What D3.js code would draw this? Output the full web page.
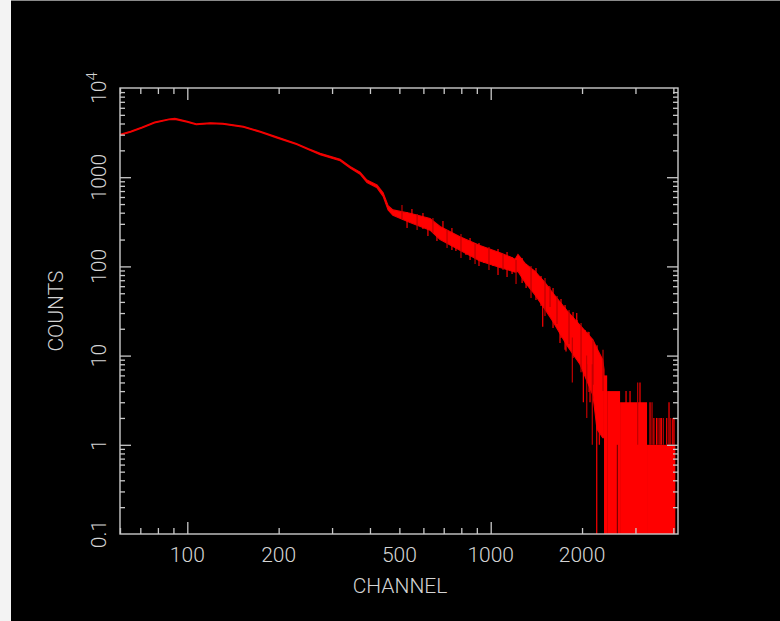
<!DOCTYPE html>
<html><head><meta charset="utf-8">
<script src="https://cdn.jsdelivr.net/npm/d3@7"></script>
<style>
html,body{margin:0;padding:0;background:#f3f3f3;overflow:hidden;}
svg{display:block;}
</style></head><body>
<svg id="c" width="780" height="621"></svg>
<script>
// ---- data ----
// envelope of the spectrum (channel, lower count, upper count)
const bandChannel = [60, 65, 71, 78, 87, 91, 100, 107, 119, 131, 153, 174, 197, 229, 250, 274, 319, 344, 371, 391, 422, 442, 459, 476, 542, 631, 681, 792, 922, 1073, 1158, 1203, 1230, 1298, 1400, 1510, 1605, 1784, 1968, 2173, 2240, 2340, 2363];
const bandLow  = [2950, 3200, 3570, 4050, 4400, 4450, 4130, 3870, 3980, 3930, 3630, 3190, 2760, 2320, 2040, 1790, 1530, 1270, 1080, 870, 760, 610, 430, 375, 310, 255, 200, 152, 115, 97, 90, 86, 88, 66, 48, 33, 24, 13, 8, 3.6, 1.5, 1.2, 1.2];
const bandHigh = [3020, 3280, 3660, 4150, 4500, 4570, 4230, 3960, 4070, 4020, 3720, 3270, 2840, 2390, 2100, 1850, 1590, 1320, 1140, 930, 820, 670, 480, 430, 395, 345, 280, 215, 172, 142, 128, 120, 136, 108, 88, 66, 50, 32, 22, 15, 12, 9, 7];
// low-count tail: zero counts reach the bottom of the plot
const tailStart = [2363, 2420, 2669, 3275];
const tailEnd   = [2420, 2669, 3275, 4060];
const tailCount = [6, 4, 3, 1];
// individual noise spikes (channel, low, high)
const spikeChannel = [510, 530, 550, 572, 598, 621, 645, 665, 696, 718, 745, 768, 798, 829, 855, 888, 915, 950, 987, 1018, 1057, 1098, 1132, 1176, 1212, 1269, 1308, 1358, 1410, 1465, 1510, 1557, 1605, 1654, 1705, 1758, 1812, 1868, 1925, 1985, 2046, 2109, 2174, 2241,
  1484, 1569, 1692, 1771, 1858, 1921, 2020, 2073, 2093, 2125, 2162, 2236, 2280, 2345, 2793, 2879, 3051, 3105, 3351, 3402, 3450, 3520, 3560, 3614, 3650, 3706, 3803, 3870, 3920, 3981, 4020];
const spikeLow  = [340, 269.5, 315, 256, 262.6, 219, 237, 192.7, 197.7, 160.8, 152.7, 148.8, 124.2, 134.2, 117.9, 106.4, 101, 109.2, 91.1, 101, 80.1, 91.1, 76.1, 82.2, 63.5, 65.2, 57.3, 44.2, 42, 36, 27.8, 30.8, 20.4, 22.6, 15.8, 11.6, 13.5, 9.4, 11, 6.5, 7.6, 3.9, 4.7, 2,
  21.1, 35, 13.8, 11.1, 5, 12, 3, 2, 8, 3, 1, 0.1, 1, 4, 1, 1, 1, 1, 1, 1, 1, 1, 1, 1, 1, 1, 1, 1, 1, 1, 1];
const spikeHigh = [488, 407, 440, 387, 397, 340, 349, 299, 323, 256, 269.5, 219, 230.8, 192.7, 208.2, 178.3, 182.9, 160.8, 165, 141.3, 156.7, 137.7, 145, 127.5, 117.9, 124.2, 106.4, 101, 96, 78, 74.1, 60.3, 57.3, 46.6, 43.1, 36.9, 32.4, 30.8, 25.1, 23.2, 19.4, 18.4, 15, 13.1,
  50, 59.2, 30, 24, 16, 30, 12, 10, 18.5, 9, 8, 6, 6, 11.6, 4, 4, 5, 5, 3, 3, 2, 2, 2, 2, 2, 2, 2, 3, 2, 2, 2];
// channels inside the tail where the fill shows a dark gap (channel, low, high)
const gapChannel = [2614];
const gapLow = [0.1];
const gapHigh = [1];
// axes
const xTickLabels = [100, 200, 500, 1000, 2000];
const yTickLabels = [0.1, 1, 10, 100, 1000, 10000];
const xTitle = "CHANNEL";
const yTitle = "COUNTS";

// ---- drawing ----
const W = 780, H = 621;
const svg = d3.select("#c");
svg.append("rect").attr("x", 11).attr("y", 1).attr("width", W - 11).attr("height", H - 1).attr("fill", "#000");
svg.append("line").attr("x1", 11).attr("x2", W).attr("y1", 0.5).attr("y2", 0.5).attr("stroke", "#8a8a8a");

const L = 120, R = 678, T = 88, B = 534;
const x = d3.scaleLog().domain([60, 4143]).range([L, R]);
const y = d3.scaleLog().domain([0.1, 10000]).range([B, T]);
const axisColor = "#c9c9c9";
const textColor = "#d4d4d4";
const font = "Roboto, 'DejaVu Sans', sans-serif";

svg.append("defs").append("clipPath").attr("id", "clip")
  .append("rect").attr("x", L).attr("y", T).attr("width", R - L).attr("height", B - T);
const data = svg.append("g").attr("clip-path", "url(#clip)");

// envelope band
const band = bandChannel.map((c, i) => ({c, lo: bandLow[i], hi: bandHigh[i]}));
data.append("path").datum(band)
  .attr("d", d3.area().x(d => x(d.c)).y0(d => y(d.lo)).y1(d => y(d.hi)))
  .attr("fill", "#ff0000").attr("stroke", "#f00000").attr("stroke-width", 1.1);

// tail blocks
const tail = tailStart.map((s, i) => ({s, e: tailEnd[i], v: tailCount[i]}));
data.selectAll("rect.tail").data(tail).join("rect").attr("class", "tail")
  .attr("x", d => x(d.s)).attr("width", d => x(d.e) - x(d.s))
  .attr("y", d => y(d.v)).attr("height", d => B - y(d.v))
  .attr("fill", "#ff0000");

// spikes
const spikes = spikeChannel.map((c, i) => ({c, lo: spikeLow[i], hi: spikeHigh[i]}));
data.selectAll("line.spike").data(spikes).join("line").attr("class", "spike")
  .attr("x1", d => x(d.c)).attr("x2", d => x(d.c))
  .attr("y1", d => y(d.lo)).attr("y2", d => y(d.hi))
  .attr("stroke", (d, i) => i % 3 === 0 ? "#c00000" : "#ff0000").attr("stroke-width", 1.2);

// dark gaps
const gaps = gapChannel.map((c, i) => ({c, lo: gapLow[i], hi: gapHigh[i]}));
data.selectAll("line.gap").data(gaps).join("line").attr("class", "gap")
  .attr("x1", d => x(d.c)).attr("x2", d => x(d.c))
  .attr("y1", d => y(d.lo)).attr("y2", d => y(d.hi))
  .attr("stroke", "#600000").attr("stroke-width", 1);

// ticks
const majorX = [100, 1000];
const minorX = [];
[10, 100, 1000].forEach(d => { for (let k = 2; k <= 9; k++) { const v = k * d; if (v >= 60 && v <= 4143) minorX.push(v); } });
const majorY = [1, 10, 100, 1000];
const minorY = [];
[0.1, 1, 10, 100, 1000].forEach(d => { for (let k = 2; k <= 9; k++) minorY.push(k * d); });

function styleAxis(g) {
  g.select(".domain").remove();
  g.selectAll("line").attr("stroke", axisColor).attr("stroke-width", 1.3);
}
const ax = svg.append("g");
ax.append("g").attr("transform", `translate(0,${B})`).call(d3.axisBottom(x).tickValues(minorX).tickSize(-6).tickFormat("")).call(styleAxis);
ax.append("g").attr("transform", `translate(0,${B})`).call(d3.axisBottom(x).tickValues(majorX).tickSize(-12).tickFormat("")).call(styleAxis);
ax.append("g").attr("transform", `translate(0,${T})`).call(d3.axisTop(x).tickValues(minorX).tickSize(-6).tickFormat("")).call(styleAxis);
ax.append("g").attr("transform", `translate(0,${T})`).call(d3.axisTop(x).tickValues(majorX).tickSize(-12).tickFormat("")).call(styleAxis);
ax.append("g").attr("transform", `translate(${L},0)`).call(d3.axisLeft(y).tickValues(minorY).tickSize(-5).tickFormat("")).call(styleAxis);
ax.append("g").attr("transform", `translate(${L},0)`).call(d3.axisLeft(y).tickValues(majorY).tickSize(-11).tickFormat("")).call(styleAxis);
ax.append("g").attr("transform", `translate(${R},0)`).call(d3.axisRight(y).tickValues(minorY).tickSize(-5).tickFormat("")).call(styleAxis);
ax.append("g").attr("transform", `translate(${R},0)`).call(d3.axisRight(y).tickValues(majorY).tickSize(-11).tickFormat("")).call(styleAxis);
ax.append("rect").attr("x", L).attr("y", T).attr("width", R - L).attr("height", B - T)
  .attr("fill", "none").attr("stroke", axisColor).attr("stroke-width", 1.4);

// tick labels
const fs = 21;
svg.selectAll("text.xl").data(xTickLabels).join("text").attr("class", "xl")
  .attr("x", d => x(d)).attr("y", 562).attr("text-anchor", "middle")
  .attr("font-family", font).attr("font-weight", 300).attr("font-size", fs).attr("fill", textColor)
  .text(d => d);
const yl = svg.selectAll("text.yl").data(yTickLabels).join("text").attr("class", "yl")
  .attr("transform", d => `translate(106,${y(d)}) rotate(-90)`).attr("text-anchor", "middle")
  .attr("font-family", font).attr("font-weight", 300).attr("font-size", fs).attr("fill", textColor);
yl.each(function(d) {
  const t = d3.select(this);
  if (d >= 10000) {
    t.append("tspan").text("10");
    t.append("tspan").attr("dy", -9).attr("font-size", 15).text(String(Math.round(Math.log10(d))));
  } else {
    t.text(d);
  }
});

// titles
svg.append("text").attr("x", 400).attr("y", 593).attr("text-anchor", "middle")
  .attr("font-family", font).attr("font-weight", 300).attr("font-size", fs).attr("fill", textColor).text(xTitle);
svg.append("text").attr("transform", "translate(63,311) rotate(-90)").attr("text-anchor", "middle")
  .attr("font-family", font).attr("font-weight", 300).attr("font-size", fs).attr("fill", textColor).text(yTitle);
</script>
</body></html>
